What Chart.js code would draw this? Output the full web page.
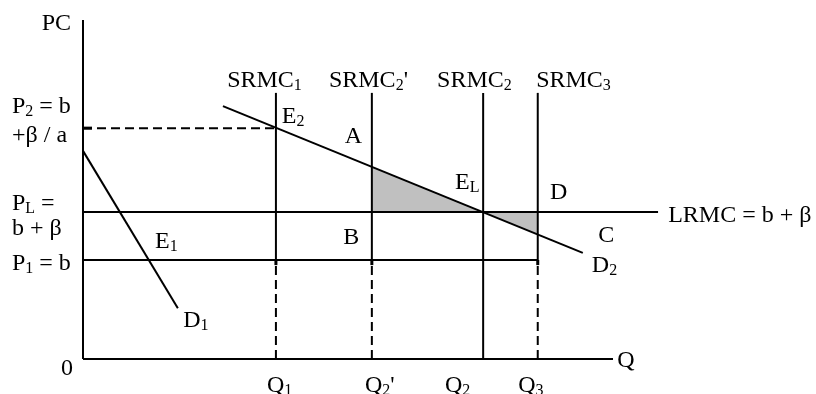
<!DOCTYPE html>
<html>
<head>
<meta charset="utf-8">
<script src="https://cdn.jsdelivr.net/npm/chart.js@4.4.0/dist/chart.umd.min.js"></script>
<style>
  html, body { margin: 0; padding: 0; background: #fff; }
  #wrap { width: 816px; height: 394px; }
</style>
</head>
<body>
<div id="wrap"><canvas id="chart"></canvas></div>
<script>
// quantities on the Q axis (Q1, Q2', Q2, Q3)
const qNames = ['Q_{1}', "Q_{2}'", 'Q_{2}', 'Q_{3}'];
const qValues = [36.4, 54.5, 75.5, 85.8];

// price levels
const p1 = 29.2;   // P1 = b
const pL = 43.4;   // PL = b + beta
const p2 = 68.1;   // P2 = b + beta / a

// short run marginal cost lines
const srmcNames = ['SRMC_{1}', "SRMC_{2}'", 'SRMC_{2}', 'SRMC_{3}'];
const srmcTop = 78.5;
const srmcBottom = [p1, p1, 0, p1];

// demand curves
const demand1 = [{ x: 0, y: 61.4 }, { x: 17.9, y: 15.0 }];
const demand2 = [{ x: 26.4, y: 74.6 }, { x: 94.3, y: 31.3 }];

// shaded losses (D2 read at Q2' and Q3)
const shadeLeft = [{ x: 54.5, y: 56.7 }, { x: 75.5, y: pL }];
const shadeRight = [{ x: 75.5, y: pL }, { x: 85.8, y: 36.7 }];

const lrmcEnd = 108.5;
const axisEnd = 100;

// text labels: [text, x, y, align]
const labels = [
    ['PC', -2.26, 97.1, 'right'],
    ['P_{2} = b', -13.4, 72.6, 'left'],
    ['+\u03b2 / a', -13.4, 64.0, 'left'],
    ['P_{L} =', -13.4, 44.0, 'left'],
    ['b + \u03b2', -13.4, 36.6, 'left'],
    ['P_{1} = b', -13.4, 26.3, 'left'],
    ['0', -3.0, -4.7, 'center'],
    ['E_{1}', 13.6, 32.7, 'left'],
    ['D_{1}', 18.9, 9.4, 'left'],
    ['E_{2}', 37.5, 69.6, 'left'],
    ['A', 49.4, 63.7, 'left'],
    ['E_{L}', 70.2, 50.1, 'left'],
    ['D', 88.1, 47.2, 'left'],
    ['B', 49.1, 33.9, 'left'],
    ['C', 97.2, 34.5, 'left'],
    ['D_{2}', 96.0, 25.7, 'left'],
    ['LRMC = b + \u03b2', 110.4, 40.4, 'left'],
    ['Q', 100.8, -2.4, 'left']
];
const srmcLabelX = [27.2, 46.4, 66.8, 85.5];
const srmcLabelY = 80.2;
const qLabelX = [34.7, 53.2, 68.3, 82.1];
const qLabelY = -9.7;

const FONT = '"Liberation Serif", "Times New Roman", serif';

function line(data, dashed, width) {
    return {
        data: data,
        showLine: true,
        borderColor: '#000',
        borderWidth: width || 2,
        borderDash: dashed ? [9, 5] : [],
        pointRadius: 0,
        tension: 0,
        fill: false,
        order: 1
    };
}

function shade(data) {
    return {
        data: data,
        showLine: true,
        borderWidth: 0,
        borderColor: 'rgba(0,0,0,0)',
        backgroundColor: '#c0c0c0',
        pointRadius: 0,
        fill: { value: pL },
        order: 5
    };
}

const datasets = [
    shade(shadeLeft),
    shade(shadeRight),
    line([{ x: 0, y: 0 }, { x: 0, y: 100 }]),
    line([{ x: 0, y: 0 }, { x: axisEnd, y: 0 }]),
    line([{ x: 0, y: pL }, { x: lrmcEnd, y: pL }]),
    line([{ x: 0, y: p1 }, { x: qValues[3], y: p1 }]),
    line([{ x: 0, y: p2 }, { x: qValues[0], y: p2 }], true),
    line([{ x: 0, y: p2 }, { x: 1.7, y: p2 }], false, 3),
    line(demand1),
    line(demand2)
];
qValues.forEach((q, i) => {
    datasets.push(line([{ x: q, y: srmcBottom[i] }, { x: q, y: srmcTop }]));
    if (srmcBottom[i] > 0) {
        datasets.push(line([{ x: q, y: 0 }, { x: q, y: srmcBottom[i] }], true));
        datasets.push(line([{ x: q, y: srmcBottom[i] - 1.5 }, { x: q, y: srmcBottom[i] }], false, 3));
    }
});

// draws text with _{..} parts as subscripts
function drawRich(ctx, text, x, y, align) {
    const parts = [];
    const re = /_\{([^}]*)\}/g;
    let last = 0, m;
    while ((m = re.exec(text)) !== null) {
        if (m.index > last) parts.push([text.slice(last, m.index), false]);
        parts.push([m[1], true]);
        last = re.lastIndex;
    }
    if (last < text.length) parts.push([text.slice(last), false]);

    const mainFont = '24px ' + FONT;
    const subFont = '16px ' + FONT;
    let width = 0;
    parts.forEach(p => {
        ctx.font = p[1] ? subFont : mainFont;
        width += ctx.measureText(p[0]).width;
    });
    let cx = x;
    if (align === 'right') cx = x - width;
    if (align === 'center') cx = x - width / 2;
    ctx.textAlign = 'left';
    ctx.textBaseline = 'alphabetic';
    parts.forEach(p => {
        ctx.font = p[1] ? subFont : mainFont;
        ctx.fillText(p[0], cx, p[1] ? y + 3 : y);
        cx += ctx.measureText(p[0]).width;
    });
}

const labelPlugin = {
    id: 'labels',
    afterDraw(chart) {
        const ctx = chart.ctx;
        const xs = chart.scales.x, ys = chart.scales.y;
        ctx.save();
        ctx.fillStyle = '#000';
        labels.forEach(l => {
            drawRich(ctx, l[0], xs.getPixelForValue(l[1]), ys.getPixelForValue(l[2]), l[3]);
        });
        srmcNames.forEach((n, i) => {
            drawRich(ctx, n, xs.getPixelForValue(srmcLabelX[i]), ys.getPixelForValue(srmcLabelY), 'left');
        });
        qNames.forEach((n, i) => {
            drawRich(ctx, n, xs.getPixelForValue(qLabelX[i]), ys.getPixelForValue(qLabelY), 'left');
        });
        ctx.restore();
    }
};

new Chart(document.getElementById('chart'), {
    type: 'scatter',
    data: { datasets: datasets },
    options: {
        responsive: true,
        maintainAspectRatio: false,
        animation: false,
        layout: { padding: 0 },
        scales: {
            x: { type: 'linear', min: -15.66, max: 138.3, display: false },
            y: { type: 'linear', min: -10.32, max: 105.9, display: false }
        },
        plugins: {
            legend: { display: false },
            tooltip: { enabled: false }
        }
    },
    plugins: [labelPlugin]
});
</script>
</body>
</html>
